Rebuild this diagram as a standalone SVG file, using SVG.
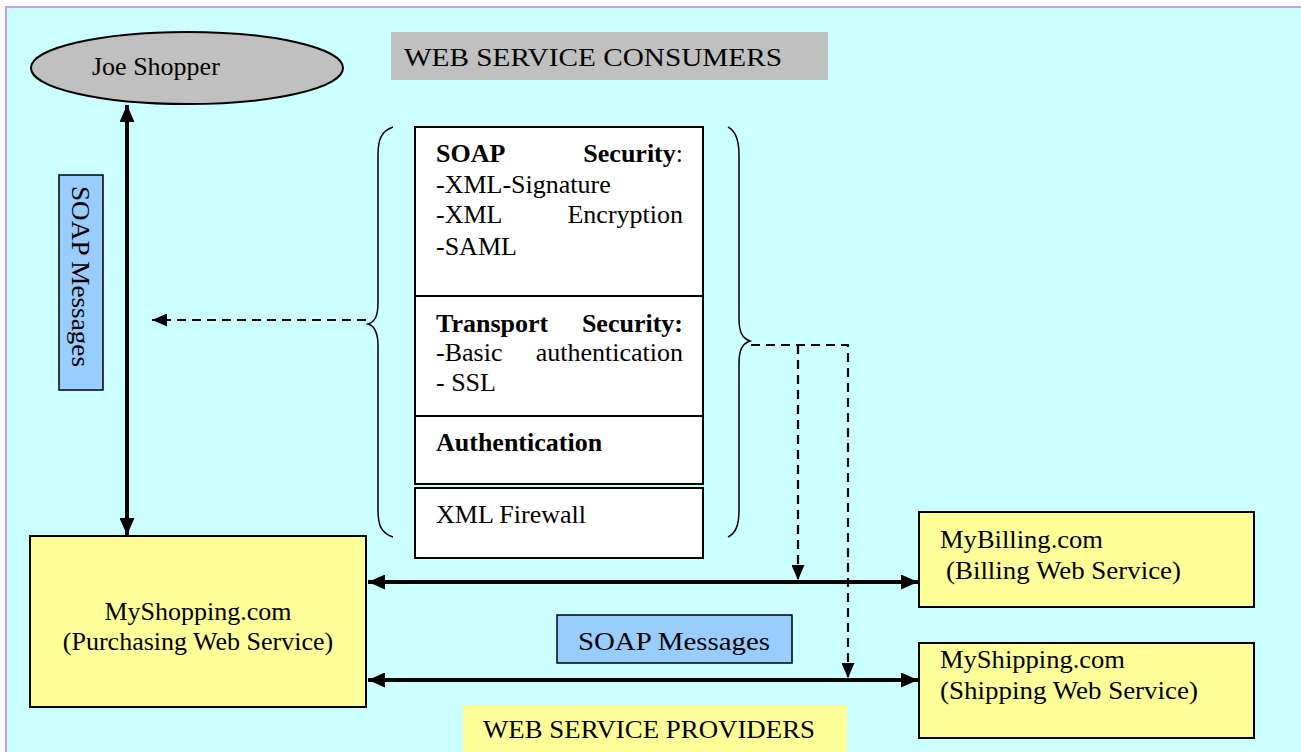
<svg xmlns="http://www.w3.org/2000/svg" width="1301" height="752" viewBox="0 0 1301 752">
  <style>
    text { font-family: "Liberation Serif", "Times New Roman", serif; font-size: 26px; fill: #000; }
    .b { font-weight: bold; }
    .yellow { fill: #FFFF99; stroke: #000; stroke-width: 2; }
    .blue { fill: #99CCFF; stroke: #000; stroke-width: 1.5; }
    .white { fill: #FFFFFF; stroke: #000; stroke-width: 2; }
    .thick { stroke: #000; stroke-width: 4; fill: none; }
    .dash { stroke: #000; stroke-width: 2.2; fill: none; stroke-dasharray: 9 6; }
    .brace { stroke: #000; stroke-width: 1.5; fill: none; }
  </style>
  <defs>
    <marker id="headThick" markerUnits="userSpaceOnUse" markerWidth="17" markerHeight="15" refX="17" refY="7.5" orient="auto-start-reverse">
      <path d="M0,0 L17,7.5 L0,15 z" fill="#000"/>
    </marker>
    <marker id="headDash" markerUnits="userSpaceOnUse" markerWidth="15" markerHeight="13" refX="15" refY="6.5" orient="auto">
      <path d="M0,0 L15,6.5 L0,13 z" fill="#000"/>
    </marker>
  </defs>

  <!-- page background with purple frame -->
  <rect x="0" y="0" width="1301" height="752" fill="#FFFFFF"/>
  <rect x="6" y="7" width="1400" height="800" fill="#CCFFFF" stroke="#CC99FF" stroke-width="2"/>

  <!-- section labels -->
  <g id="consumers-label">
    <rect x="391" y="32" width="437" height="48" fill="#C0C0C0"/>
    <text x="404" y="66" font-size="27" textLength="378" lengthAdjust="spacingAndGlyphs">WEB SERVICE CONSUMERS</text>
  </g>
  <g id="providers-label">
    <rect x="463" y="705" width="384" height="50" fill="#FFFF99"/>
    <text x="483" y="738" textLength="332" lengthAdjust="spacingAndGlyphs">WEB SERVICE PROVIDERS</text>
  </g>

  <!-- connectors -->
  <g id="connectors">
    <line class="thick" x1="127" y1="105" x2="127" y2="535" marker-start="url(#headThick)" marker-end="url(#headThick)"/>
    <line class="thick" x1="368" y1="582" x2="918" y2="582" marker-start="url(#headThick)" marker-end="url(#headThick)"/>
    <line class="thick" x1="368" y1="680" x2="918" y2="680" marker-start="url(#headThick)" marker-end="url(#headThick)"/>
    <line class="dash" x1="366" y1="320" x2="152" y2="320" marker-end="url(#headDash)"/>
    <polyline class="dash" points="751,345 848,345 848,678" marker-end="url(#headDash)"/>
    <line class="dash" x1="798" y1="345" x2="798" y2="580" marker-end="url(#headDash)"/>
  </g>

  <g id="joe-shopper">
    <ellipse cx="187" cy="68" rx="156" ry="36" fill="#C0C0C0" stroke="#000" stroke-width="2"/>
    <text x="92" y="75">Joe Shopper</text>
  </g>

  <g id="soap-messages-vertical">
    <rect class="blue" x="59" y="175" width="44" height="215"/>
    <text transform="translate(72,186) rotate(90)" textLength="181" lengthAdjust="spacingAndGlyphs">SOAP Messages</text>
  </g>

  <!-- security layer stack -->
  <g id="soap-security">
    <rect class="white" x="415" y="127" width="288" height="169"/>
    <text class="b" x="436" y="162">SOAP</text>
    <text x="683" y="162" text-anchor="end"><tspan class="b">Security</tspan>:</text>
    <text x="436" y="193">-XML-Signature</text>
    <text x="436" y="223">-XML</text>
    <text x="683" y="223" text-anchor="end">Encryption</text>
    <text x="436" y="255">-SAML</text>
  </g>
  <g id="transport-security">
    <rect class="white" x="415" y="296" width="288" height="120"/>
    <text class="b" x="436" y="332">Transport</text>
    <text class="b" x="683" y="332" text-anchor="end">Security:</text>
    <text x="436" y="361">-Basic</text>
    <text x="683" y="361" text-anchor="end">authentication</text>
    <text x="436" y="391">- SSL</text>
  </g>
  <g id="authentication">
    <rect class="white" x="415" y="416" width="288" height="68"/>
    <text class="b" x="436" y="451">Authentication</text>
  </g>
  <g id="xml-firewall">
    <rect class="white" x="415" y="488" width="288" height="70"/>
    <text x="436" y="523">XML Firewall</text>
  </g>

  <!-- braces around the stack -->
  <g id="braces">
    <path class="brace" d="M393,127 C381,131 378,140 378,155 L378,302 C378,316 375,322 368,324 C375,326 378,333 378,346 L378,510 C378,525 381,533 393,537"/>
    <path class="brace" d="M728,127 C736,131 739,140 739,155 L739,318 C739,332 742,338 750,341 C742,344 739,350 739,364 L739,510 C739,525 736,533 728,537"/>
  </g>

  <g id="myshopping">
    <rect class="yellow" x="30" y="536" width="336" height="171"/>
    <text x="198" y="620" text-anchor="middle">MyShopping.com</text>
    <text x="198" y="650" text-anchor="middle">(Purchasing Web Service)</text>
  </g>

  <g id="soap-messages-horizontal">
    <rect class="blue" x="557" y="615" width="235" height="48"/>
    <text x="578" y="650" textLength="192" lengthAdjust="spacingAndGlyphs">SOAP Messages</text>
  </g>

  <g id="mybilling">
    <rect class="yellow" x="919" y="512" width="335" height="95"/>
    <text x="940" y="548" textLength="163" lengthAdjust="spacingAndGlyphs">MyBilling.com</text>
    <text x="946" y="579" textLength="235" lengthAdjust="spacingAndGlyphs">(Billing Web Service)</text>
  </g>

  <g id="myshipping">
    <rect class="yellow" x="919" y="643" width="335" height="95"/>
    <text x="940" y="668" textLength="185" lengthAdjust="spacingAndGlyphs">MyShipping.com</text>
    <text x="940" y="699" textLength="258" lengthAdjust="spacingAndGlyphs">(Shipping Web Service)</text>
  </g>
</svg>
